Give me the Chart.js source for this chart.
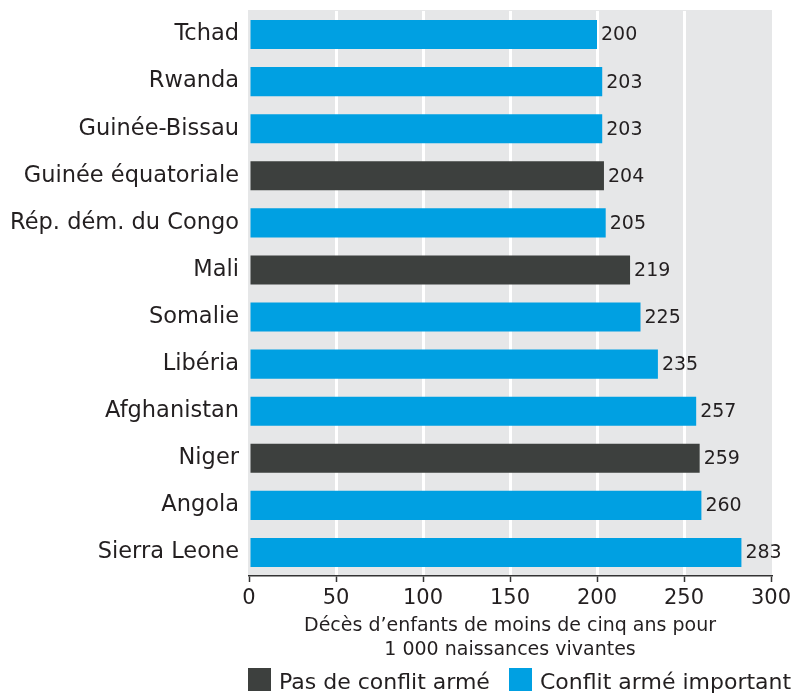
<!DOCTYPE html>
<html>
<head>
<meta charset="utf-8">
<script src="https://cdn.jsdelivr.net/npm/chart.js@4"></script>
<style>
  html, body { margin: 0; padding: 0; background: #ffffff; }
  #wrap { position: relative; width: 793px; height: 696px; overflow: hidden; }
  #c { position: absolute; left: 0; top: 0; }
  .sw { position: absolute; width: 23px; height: 23px; }
  .lt { position: absolute; font-family: "DejaVu Sans", sans-serif; font-size: 22px; line-height: 23px; color: #231f20; white-space: nowrap; }
</style>
</head>
<body>
<div id="wrap">
  <canvas id="c" width="793" height="696"></canvas>
  <div class="sw" style="left:248px; top:668px; background:#3d403e;"></div>
  <div class="lt" id="lg0" style="left:279px; top:670px;"></div>
  <div class="sw" style="left:509px; top:668px; background:#00a0e2;"></div>
  <div class="lt" id="lg1" style="left:540px; top:670px;"></div>
</div>
<script>
// ---- data ----
const countries = ['Tchad', 'Rwanda', 'Guinée-Bissau', 'Guinée équatoriale', 'Rép. dém. du Congo', 'Mali',
                   'Somalie', 'Libéria', 'Afghanistan', 'Niger', 'Angola', 'Sierra Leone'];
const mortality = [200, 203, 203, 204, 205, 219, 225, 235, 257, 259, 260, 283];
// 1 = Conflit armé important, 0 = Pas de conflit armé
const armedConflict = [1, 1, 1, 0, 1, 0, 1, 1, 1, 0, 1, 1];
const groupNames = ['Pas de conflit armé', 'Conflit armé important'];
const axisTitle = ['Décès d’enfants de moins de cinq ans pour', '1 000 naissances vivantes'];
const xTicks = [0, 50, 100, 150, 200, 250, 300];

// ---- styles ----
const groupColors = ['#3d403e', '#00a0e2'];
const textColor = '#231f20';
const FONT = '"DejaVu Sans", sans-serif';

document.getElementById('lg0').textContent = groupNames[0];
document.getElementById('lg1').textContent = groupNames[1];

const bgPlugin = {
  id: 'plotBg',
  beforeDraw(chart) {
    const {ctx, chartArea: a} = chart;
    ctx.save();
    ctx.fillStyle = '#e6e7e8';
    ctx.fillRect(a.left - 1, a.top - 1, a.right - a.left + 2, a.bottom - a.top + 1);
    ctx.restore();
  }
};

const valueLabels = {
  id: 'valueLabels',
  afterDatasetsDraw(chart) {
    const {ctx} = chart;
    const meta = chart.getDatasetMeta(0);
    ctx.save();
    ctx.font = '19px ' + FONT;
    ctx.fillStyle = textColor;
    ctx.textAlign = 'left';
    ctx.textBaseline = 'middle';
    meta.data.forEach((bar, i) => {
      ctx.fillText(String(mortality[i]), bar.x + 4, bar.y + 1);
    });
    ctx.restore();
  }
};

new Chart(document.getElementById('c'), {
  type: 'bar',
  data: {
    labels: countries,
    datasets: [{
      data: mortality,
      backgroundColor: armedConflict.map(g => groupColors[g]),
      borderWidth: 0,
      barPercentage: 0.617,
      categoryPercentage: 1
    }]
  },
  options: {
    indexAxis: 'y',
    responsive: false,
    animation: false,
    devicePixelRatio: 1,
    layout: { padding: { top: 11, right: 22, left: 0, bottom: 0 } },
    plugins: {
      legend: { display: false },
      tooltip: { enabled: false }
    },
    scales: {
      x: {
        min: 0,
        max: 300,
        afterBuildTicks: (scale) => { scale.ticks = xTicks.map(v => ({value: v})); },
        afterFit: (scale) => { scale.height = 120; scale.paddingLeft = 0; scale.paddingRight = 0; },
        grid: {
          color: (c) => (c.index === 0 || c.index === xTicks.length - 1) ? 'rgba(0,0,0,0)' : '#ffffff',
          lineWidth: 3,
          drawTicks: true,
          tickLength: 6,
          tickColor: '#333333',
          tickWidth: 1.5
        },
        border: { display: true, color: '#333333', width: 1.5 },
        ticks: {
          color: textColor,
          font: { family: FONT, size: 21 },
          padding: 4,
          maxRotation: 0
        },
        title: {
          display: true,
          text: axisTitle,
          color: textColor,
          font: { family: FONT, size: 19, lineHeight: 1.263 },
          padding: { top: 0, bottom: 34 }
        }
      },
      y: {
        afterFit: (scale) => { scale.width = 249; scale.paddingTop = 0; scale.paddingBottom = 0; },
        grid: { display: false, drawTicks: false },
        border: { display: false },
        ticks: {
          color: textColor,
          font: { family: FONT, size: 22.5 },
          padding: 10,
          autoSkip: false
        }
      }
    }
  },
  plugins: [bgPlugin, valueLabels]
});
</script>
</body>
</html>
